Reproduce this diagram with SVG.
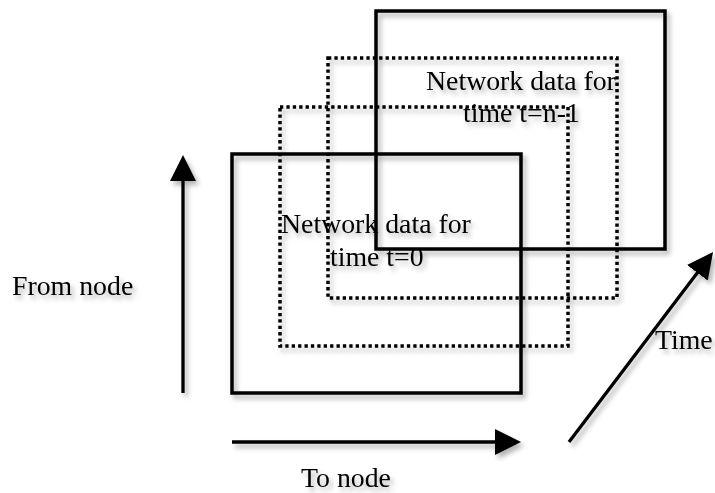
<svg xmlns="http://www.w3.org/2000/svg" width="715" height="493" viewBox="0 0 715 493">
  <style>
    .frame { fill: none; stroke: #000; stroke-width: 3.5; }
    .dotted { fill: none; stroke: #000; stroke-width: 3.5; stroke-dasharray: 3.3 3.1; }
    .axis { fill: none; stroke: #000; stroke-width: 3.3; marker-end: url(#head); }
    text { font-family: "Liberation Serif", "Times New Roman", serif; font-size: 27.8px; fill: #000; }
  </style>
  <defs>
    <filter id="shadow" x="-10%" y="-10%" width="120%" height="130%">
      <feDropShadow dx="3" dy="4" stdDeviation="2.5" flood-color="#000" flood-opacity="0.3"/>
    </filter>
    <marker id="head" markerUnits="userSpaceOnUse" viewBox="0 0 26 26" refX="11" refY="13" markerWidth="26" markerHeight="26" orient="auto">
      <path d="M0,0 L26,13 L0,26 z" fill="#000"/>
    </marker>
  </defs>

  <g filter="url(#shadow)">
    <!-- stacked network data frames, oldest at front -->
    <g id="frame-n-1">
      <rect class="frame" x="376" y="11" width="289" height="238"/>
    </g>
    <g id="frame-mid2">
      <rect class="dotted" x="328" y="58" width="289" height="240"/>
    </g>
    <g id="frame-mid1">
      <rect class="dotted" x="280" y="107" width="288" height="239"/>
    </g>
    <g id="frame-0">
      <rect class="frame" x="232" y="154" width="289" height="239"/>
    </g>

    <g id="label-n-1">
      <text x="426" y="90">Network data for</text>
      <text x="463" y="122">time t=n-1</text>
    </g>
    <g id="label-0">
      <text x="281" y="233">Network data for</text>
      <text x="330" y="266">time t=0</text>
    </g>

    <!-- axes -->
    <g id="connectors">
      <line class="axis" x1="183" y1="393" x2="183" y2="170"/>
      <line class="axis" x1="232" y1="442" x2="506" y2="442"/>
      <line class="axis" x1="569" y1="442" x2="704" y2="264"/>
    </g>

    <g id="axis-labels">
      <text x="12" y="295">From node</text>
      <text x="301" y="487">To node</text>
      <text x="655" y="349">Time</text>
    </g>
  </g>
</svg>
